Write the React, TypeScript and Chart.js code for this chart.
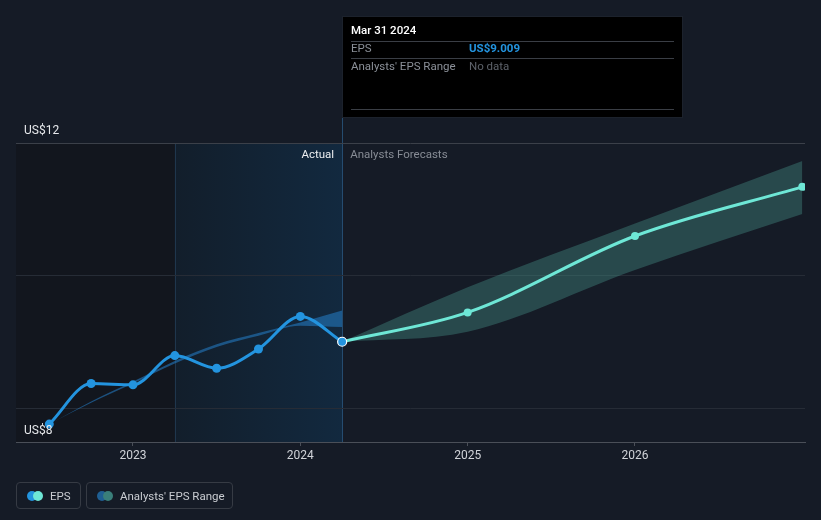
import React, { useEffect, useRef } from 'react';
import { Chart, registerables } from 'chart.js';

Chart.register(...registerables);

// ---- data ----
const actualDates = [2022.5, 2022.75, 2023.0, 2023.25, 2023.5, 2023.75, 2024.0, 2024.25];
const actualEps = [7.77, 8.38, 8.36, 8.8, 8.61, 8.9, 9.39, 9.009];
const pastRangeLow = [7.77, 8.09, 8.38, 8.68, 8.93, 9.1, 9.25, 9.23];
const pastRangeHigh = [7.77, 8.11, 8.41, 8.72, 8.97, 9.14, 9.3, 9.48];
const forecastDates = [2024.25, 2025.0, 2026.0, 2027.0];
const forecastEps = [9.009, 9.45, 10.6, 11.34];
const forecastLow = [9.009, 9.16, 10.09, 10.93];
const forecastHigh = [9.009, 9.83, 10.79, 11.73];
const xTickYears = [2023, 2024, 2025, 2026];
const yGridValues = [8, 10, 12];
const yLabelValues = [12, 8];
const yLabelTexts = ['US$12', 'US$8'];
const pastStart = 2023.25;
const todayX = 2024.25;
const tooltipDate = 'Mar 31 2024';
const tooltipEps = 'US$9.009';

const FONT = 'Roboto, "Noto Sans", "DejaVu Sans", sans-serif';
const BG = '#151b26';

const pts = (xs: number[], ys: number[]) => xs.map((x, i) => ({ x, y: ys[i] }));

const decorPlugin = {
  id: 'decor',
  beforeDraw(chart: any) {
    const { ctx, chartArea, scales } = chart;
    const xs = scales.x;
    ctx.save();
    ctx.fillStyle = BG;
    ctx.fillRect(0, 0, chart.width, chart.height);
    const xPast = xs.getPixelForValue(pastStart);
    const xToday = xs.getPixelForValue(todayX);
    // darker left region
    ctx.fillStyle = '#12161e';
    ctx.fillRect(chartArea.left, chartArea.top, xPast - chartArea.left, chartArea.bottom - chartArea.top);
    // blue highlight region
    const g = ctx.createLinearGradient(xPast, 0, xToday, 0);
    g.addColorStop(0, '#121e2b');
    g.addColorStop(1, '#12293f');
    ctx.fillStyle = g;
    ctx.fillRect(xPast, chartArea.top, xToday - xPast, chartArea.bottom - chartArea.top);
    // thin vertical lines
    ctx.strokeStyle = 'rgba(40,70,100,0.6)';
    ctx.lineWidth = 1;
    ctx.beginPath();
    ctx.moveTo(Math.round(xPast) + 0.5, chartArea.top);
    ctx.lineTo(Math.round(xPast) + 0.5, chartArea.bottom);
    ctx.stroke();
    ctx.strokeStyle = 'rgba(40,85,125,0.85)';
    ctx.beginPath();
    ctx.moveTo(Math.round(xToday) + 0.5, 118);
    ctx.lineTo(Math.round(xToday) + 0.5, chartArea.bottom);
    ctx.stroke();
    ctx.restore();
  },
  afterDraw(chart: any) {
    const { ctx, chartArea, scales } = chart;
    const xs = scales.x;
    const ys = scales.y;
    ctx.save();
    ctx.textBaseline = 'middle';
    ctx.font = `12px ${FONT}`;
    // y labels
    ctx.fillStyle = '#e6e8eb';
    ctx.textAlign = 'left';
    yLabelValues.forEach((v, i) => {
      const py = ys.getPixelForValue(v);
      const ty = v === 12 ? py - 12 : py + 22;
      ctx.fillText(yLabelTexts[i], chartArea.left + 8, ty);
    });
    // Actual / Analysts Forecasts
    const xToday = xs.getPixelForValue(todayX);
    ctx.font = `11.5px ${FONT}`;
    ctx.textAlign = 'right';
    ctx.fillStyle = '#eceef0';
    ctx.fillText('Actual', xToday - 8, chartArea.top + 12);
    ctx.textAlign = 'left';
    ctx.fillStyle = '#878c95';
    ctx.fillText('Analysts Forecasts', xToday + 8, chartArea.top + 12);
    // tooltip box
    const bx = Math.round(xToday);
    const by = 16;
    const bw = 341;
    const bh = 102;
    ctx.fillStyle = '#000000';
    ctx.fillRect(bx, by, bw, bh);
    ctx.strokeStyle = '#1c222c';
    ctx.strokeRect(bx + 0.5, by + 0.5, bw - 1, bh - 1);
    ctx.fillStyle = '#ffffff';
    ctx.font = `500 11.5px ${FONT}`;
    ctx.fillText(tooltipDate, bx + 9, 31);
    ctx.strokeStyle = '#3a3e45';
    [41, 58, 109].forEach((ly) => {
      ctx.beginPath();
      ctx.moveTo(bx + 9, ly + 0.5);
      ctx.lineTo(bx + bw - 9, ly + 0.5);
      ctx.stroke();
    });
    ctx.font = `11.5px ${FONT}`;
    ctx.fillStyle = '#8b9098';
    ctx.fillText('EPS', bx + 9, 49);
    ctx.fillText("Analysts' EPS Range", bx + 9, 67);
    ctx.font = `bold 11.5px ${FONT}`;
    ctx.fillStyle = '#2394df';
    ctx.fillText(tooltipEps, bx + 127, 49);
    ctx.font = `11.5px ${FONT}`;
    ctx.fillStyle = '#5d626a';
    ctx.fillText('No data', bx + 127, 67);
    ctx.restore();
  },
};

export default function App() {
  const ref = useRef<HTMLCanvasElement | null>(null);
  useEffect(() => {
    document.body.style.margin = '0';
    const canvas = ref.current;
    if (!canvas) return;
    const lastIdx = actualDates.length - 1;
    const chart = new Chart(canvas, {
      type: 'line',
      data: {
        datasets: [
          {
            label: 'EPS',
            data: pts(actualDates, actualEps),
            borderColor: '#2394df',
            backgroundColor: '#2394df',
            borderWidth: 3,
            cubicInterpolationMode: 'monotone',
            pointRadius: 4.5,
            pointBackgroundColor: '#2394df',
            pointBorderColor: (c: any) => (c.dataIndex === lastIdx ? '#ffffff' : '#2394df'),
            pointBorderWidth: (c: any) => (c.dataIndex === lastIdx ? 1.2 : 0),
            fill: false,
            order: 0,
          } as any,
          {
            label: 'EPS Forecast',
            data: pts(forecastDates, forecastEps),
            borderColor: '#6ee7d6',
            backgroundColor: '#6ee7d6',
            borderWidth: 3,
            cubicInterpolationMode: 'monotone',
            pointRadius: (c: any) => (c.dataIndex === 0 ? 0 : 4),
            pointBorderWidth: 0,
            fill: false,
            order: 1,
          } as any,
          {
            label: 'pastLow',
            data: pts(actualDates, pastRangeLow),
            borderWidth: 0,
            pointRadius: 0,
            cubicInterpolationMode: 'monotone',
            fill: false,
            order: 3,
          } as any,
          {
            label: 'pastHigh',
            data: pts(actualDates, pastRangeHigh),
            borderWidth: 0,
            pointRadius: 0,
            cubicInterpolationMode: 'monotone',
            fill: '-1',
            backgroundColor: 'rgba(35,120,190,0.6)',
            order: 3,
          } as any,
          {
            label: 'fcLow',
            data: pts(forecastDates, forecastLow),
            borderWidth: 0,
            pointRadius: 0,
            cubicInterpolationMode: 'monotone',
            fill: false,
            order: 4,
          } as any,
          {
            label: 'fcHigh',
            data: pts(forecastDates, forecastHigh),
            borderWidth: 0,
            pointRadius: 0,
            cubicInterpolationMode: 'monotone',
            fill: '-1',
            backgroundColor: 'rgba(70,150,140,0.38)',
            order: 4,
          } as any,
        ],
      },
      options: {
        animation: false,
        responsive: false,
        maintainAspectRatio: false,
        layout: { padding: { left: 16, right: 16, top: 143, bottom: 0 } },
        plugins: {
          legend: { display: false },
          tooltip: { enabled: false },
        },
        scales: {
          x: {
            type: 'linear',
            min: 2022.301,
            max: 2027.016,
            afterBuildTicks: (s: any) => {
              s.ticks = xTickYears.map((v) => ({ value: v }));
            },
            afterFit: (s: any) => {
              s.height = 78;
            },
            ticks: {
              color: '#d0d3d8',
              font: { family: FONT, size: 12 },
              padding: 3,
              maxRotation: 0,
              autoSkip: false,
              callback: (v: any) => String(v),
            },
            grid: {
              drawOnChartArea: false,
              drawTicks: true,
              tickLength: 4,
              color: '#4a4f58',
            },
            border: { display: true, color: '#4a4f58', width: 1 },
          },
          y: {
            type: 'linear',
            min: 7.5,
            max: 12,
            afterBuildTicks: (s: any) => {
              s.ticks = yGridValues.map((v) => ({ value: v }));
            },
            afterFit: (s: any) => {
              s.width = 0;
            },
            ticks: { display: false },
            grid: {
              drawTicks: false,
              color: (c: any) => (c.tick && c.tick.value === 12 ? '#3b4049' : '#262c36'),
              lineWidth: 1,
            },
            border: { display: false },
          },
        },
      } as any,
      plugins: [decorPlugin],
    });
    return () => chart.destroy();
  }, []);

  const box: React.CSSProperties = {
    position: 'absolute',
    top: 482,
    height: 27,
    boxSizing: 'border-box',
    border: '1px solid #363b44',
    borderRadius: 4,
    display: 'flex',
    alignItems: 'center',
    fontFamily: FONT,
    fontSize: 11.5,
    color: '#c9ccd1',
  };
  const dot = (c: string, left: number): React.CSSProperties => ({
    position: 'absolute',
    left,
    top: 8,
    width: 10,
    height: 10,
    borderRadius: 5,
    background: c,
  });

  return (
    <div style={{ position: 'fixed', left: 0, top: 0, width: 821, height: 520, background: BG, overflow: 'hidden' }}>
      <canvas ref={ref} width={821} height={520} style={{ display: 'block', width: 821, height: 520 }} />
      <div style={{ ...box, left: 16, width: 65 }}>
        <span style={dot('#2394df', 10)} />
        <span style={dot('#6ee7d6', 16)} />
        <span style={{ position: 'absolute', left: 33 }}>EPS</span>
      </div>
      <div style={{ ...box, left: 86, width: 147 }}>
        <span style={dot('#1f5f93', 10)} />
        <span style={dot('#3a7f7a', 16)} />
        <span style={{ position: 'absolute', left: 33 }}>Analysts' EPS Range</span>
      </div>
    </div>
  );
}
